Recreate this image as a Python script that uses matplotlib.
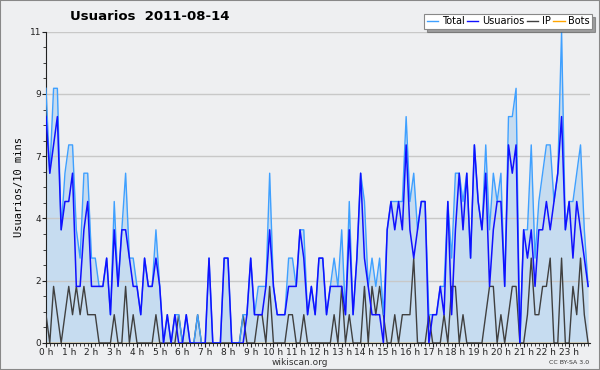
import numpy as np
import matplotlib
matplotlib.use("Agg")
import matplotlib.pyplot as plt
from matplotlib.ticker import FixedLocator, MultipleLocator

# 10-minute samples for 2011-08-14 (144 points)
total = [9, 6, 9, 9, 4, 6, 7, 7, 4, 3, 6, 6, 3, 3, 2, 2, 3, 1, 5, 2, 4, 6, 3, 3,
         2, 1, 3, 2, 2, 4, 2, 0, 1, 0, 1, 1, 0, 1, 0, 0, 1, 0, 0, 3, 0, 0, 0, 3,
         3, 0, 0, 0, 1, 1, 3, 1, 2, 2, 2, 6, 2, 1, 1, 1, 3, 3, 2, 4, 4, 1, 2, 1,
         3, 3, 1, 2, 3, 2, 4, 1, 5, 1, 3, 6, 5, 2, 3, 2, 3, 1, 4, 5, 5, 5, 5, 8,
         5, 6, 4, 5, 5, 1, 1, 1, 2, 2, 5, 3, 6, 6, 5, 6, 3, 7, 5, 4, 7, 4, 6, 5,
         6, 2, 8, 8, 9, 0, 4, 4, 7, 3, 5, 6, 7, 7, 5, 6, 11, 4, 5, 5, 6, 7, 4, 2]
usuarios = [8, 6, 7, 8, 4, 5, 5, 6, 2, 2, 4, 5, 2, 2, 2, 2, 3, 1, 4, 2, 4, 4, 3, 2,
            2, 1, 3, 2, 2, 3, 2, 0, 1, 0, 1, 0, 0, 1, 0, 0, 0, 0, 0, 3, 0, 0, 0, 3,
            3, 0, 0, 0, 0, 1, 3, 1, 1, 1, 2, 4, 2, 1, 1, 1, 2, 2, 2, 4, 3, 1, 2, 1,
            3, 3, 1, 2, 2, 2, 2, 1, 4, 1, 3, 6, 3, 2, 1, 1, 1, 0, 4, 5, 4, 5, 4, 7,
            4, 3, 4, 5, 5, 0, 1, 1, 2, 1, 5, 1, 4, 6, 4, 6, 3, 7, 5, 4, 6, 2, 4, 5,
            5, 2, 7, 6, 7, 0, 4, 3, 4, 2, 4, 4, 5, 4, 5, 6, 8, 4, 5, 3, 5, 4, 3, 2]
ip = [1, 0, 2, 1, 0, 1, 2, 1, 2, 1, 2, 1, 1, 1, 0, 0, 0, 0, 1, 0, 0, 2, 0, 1,
      0, 0, 0, 0, 0, 1, 0, 0, 0, 0, 0, 1, 0, 0, 0, 0, 1, 0, 0, 0, 0, 0, 0, 0,
      0, 0, 0, 0, 1, 0, 0, 0, 1, 1, 0, 2, 0, 0, 0, 0, 1, 1, 0, 0, 1, 0, 0, 0,
      0, 0, 0, 0, 1, 0, 2, 0, 1, 0, 0, 0, 2, 0, 2, 1, 2, 1, 0, 0, 1, 0, 1, 1,
      1, 3, 0, 0, 0, 1, 0, 0, 0, 1, 0, 2, 2, 0, 1, 0, 0, 0, 0, 0, 1, 2, 2, 0,
      1, 0, 1, 2, 2, 0, 0, 1, 3, 1, 1, 2, 2, 3, 0, 0, 3, 0, 0, 2, 1, 3, 1, 0]
bots = [0] * 144

hour_labels = [f"{h} h" for h in range(24)]
y_ticks = [0, 2.2, 4.4, 6.6, 8.8, 11]
y_labels = ["0", "2", "4", "7", "9", "11"]

BG = "#eeeff1"

fig = plt.figure(figsize=(6, 3.7), dpi=100, facecolor=BG)
ax = fig.add_axes([46 / 600, 27 / 370, 544 / 600, 311.3 / 370])
ax.set_facecolor(BG)

x = np.arange(len(total))

ax.fill_between(x, total, 0, color="#c6dcf0", lw=0, zorder=1)
ax.plot(x, bots, color="#ffa500", lw=1.0, zorder=2)
ax.plot(x, ip, color="#404040", lw=1.0, zorder=3)
ax.plot(x, total, color="#3fa0ff", lw=1.0, zorder=4)
ax.plot(x, usuarios, color="#1010ff", lw=1.1, zorder=5)

ax.set_xlim(0, 143.5)
ax.set_ylim(0, 11)

ax.yaxis.set_major_locator(FixedLocator(y_ticks))
ax.set_yticklabels(y_labels)
ax.yaxis.set_minor_locator(MultipleLocator(0.55))
ax.xaxis.set_major_locator(FixedLocator(np.arange(24) * 6))
ax.set_xticklabels(hour_labels)
ax.xaxis.set_minor_locator(MultipleLocator(1))

ax.tick_params(axis="both", which="major", labelsize=6.5, length=3, width=0.8,
               pad=0.5, color="#222222", labelcolor="#222222")
ax.tick_params(axis="both", which="minor", length=2, width=0.6, color="#222222")

ax.grid(True, axis="y", color="#c8c8c8", lw=1.0, zorder=0)
for side in ["top", "right"]:
    ax.spines[side].set_visible(False)
ax.spines["left"].set_color("#222222")
ax.spines["bottom"].set_color("#222222")

ax.set_ylabel("Usuarios/10 mins", family="DejaVu Sans Mono", fontsize=7.5,
              labelpad=4)
fig.text(150 / 600, 1 - 16 / 370, "Usuarios  2011-08-14", ha="center",
         va="center", fontsize=9.5, fontweight="bold")
fig.text(300 / 600, 1 - 362.5 / 370, "wikiscan.org", ha="center", va="center",
         fontsize=6.5, color="#333333")
fig.text(589 / 600, 1 - 362 / 370, "CC BY-SA 3.0", ha="right", va="center",
         fontsize=4.5, color="#333333")

handles = [plt.Line2D([], [], color=c, lw=1.0)
           for c in ["#3fa0ff", "#1010ff", "#404040", "#ffa500"]]
leg = fig.legend(handles, ["Total", "Usuarios", "IP", "Bots"], ncol=4,
                 loc="upper right", bbox_to_anchor=(592 / 600, 1 - 14 / 370),
                 fontsize=7, frameon=True, fancybox=False, shadow=True,
                 handlelength=1.2, handletextpad=0.35, columnspacing=0.25,
                 borderpad=0.25, borderaxespad=0)
leg.get_frame().set_edgecolor("#888888")
leg.get_frame().set_linewidth(0.8)

fig.patches.append(plt.Rectangle((0, 0), 1, 1, transform=fig.transFigure,
                                 fill=False, edgecolor="#888888", lw=1.5))

fig.savefig("out.png", dpi=100, facecolor=BG)
